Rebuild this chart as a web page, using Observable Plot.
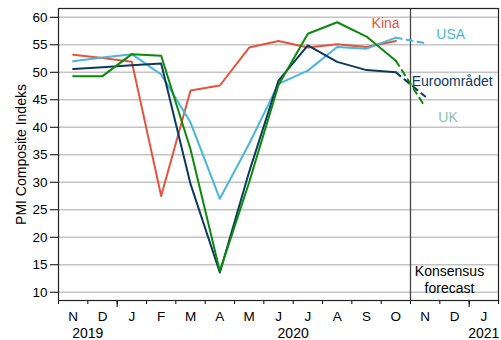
<!DOCTYPE html>
<html>
<head>
<meta charset="utf-8">
<script src="https://cdn.jsdelivr.net/npm/d3@7"></script>
<script src="https://cdn.jsdelivr.net/npm/@observablehq/plot@0.6"></script>
<style>
  html, body { margin: 0; padding: 0; background: #fff; }
  svg { display: block; }
</style>
</head>
<body>
<div id="chart"></div>
<script>
// Months Nov 2019 .. Jan 2021 (index 0..14)
const months = ["N","D","J","F","M","A","M","J","J","A","S","O","N","D","J"];
const years = [{i: 0.5, label: "2019"}, {i: 7.5, label: "2020"}, {i: 14, label: "2021"}];
const yTicks = [10, 15, 20, 25, 30, 35, 40, 45, 50, 55, 60];

// Actuals Nov 2019 .. Oct 2020
const kina = [53.2, 52.6, 51.9, 27.5, 46.7, 47.6, 54.5, 55.7, 54.5, 55.1, 54.6, 55.7];
const usa  = [52.0, 52.7, 53.3, 49.6, 40.9, 27.0, 37.0, 47.9, 50.3, 54.6, 54.3, 56.3];
const euro = [50.6, 50.9, 51.3, 51.6, 29.7, 13.6, 31.9, 48.5, 54.9, 51.9, 50.4, 50.0];
const uk   = [49.3, 49.3, 53.3, 53.0, 36.0, 13.8, 30.0, 47.7, 57.0, 59.1, 56.5, 52.1];

// Consensus forecast for Nov 2020 (segment Oct -> Nov)
const usaF  = [56.3, 55.3];
const euroF = [50.0, 45.6];
const ukF   = [52.1, 43.7];

const colors = {kina: "#e5533f", usa: "#48b6dd", euro: "#0c3a5f", uk: "#0a8a0a", ukLabel: "#8cbfa8"};

const toRows = (arr, start) => arr.map((v, k) => ({i: start + k, v}));
const boundaries = d3.range(-0.5, 15, 1);
const font = "Liberation Sans, Arial, Helvetica, sans-serif";

const chart = Plot.plot({
  width: 501,
  height: 340,
  marginLeft: 58,
  marginRight: 3,
  marginTop: 8,
  marginBottom: 40,
  style: {fontFamily: font, background: "#fff", color: "#000"},
  x: {domain: [-0.5, 14.5], axis: null},
  y: {domain: [8.5, 61.6], axis: null},
  marks: [
    Plot.gridY(yTicks, {stroke: "#c4c4c4", strokeOpacity: 1, strokeWidth: 1.4}),
    Plot.ruleX([11.5], {stroke: "#444", strokeWidth: 1.3}),
    Plot.axisY(yTicks, {tickSize: 8, tickPadding: 3, fontSize: 13.5, label: null}),
    Plot.axisX(boundaries, {tickSize: 4, tickFormat: () => "", label: null}),
    Plot.axisX([1.5, 13.5], {tickSize: 7, tickFormat: () => "", label: null}),
    Plot.text(months, {x: (d, k) => k, frameAnchor: "bottom", dy: 16, lineAnchor: "middle", fontSize: 13.5, text: d => d}),
    Plot.text(years, {x: "i", text: "label", frameAnchor: "bottom", dy: 33, lineAnchor: "middle", fontSize: 14}),
    Plot.text(["PMI Composite Indeks"], {frameAnchor: "left", textAnchor: "middle", dx: -37, rotate: -90, fontSize: 14, lineAnchor: "middle"}),
    Plot.line(toRows(kina, 0), {x: "i", y: "v", stroke: colors.kina, strokeWidth: 2}),
    Plot.line(toRows(usa, 0), {x: "i", y: "v", stroke: colors.usa, strokeWidth: 2}),
    Plot.line(toRows(euro, 0), {x: "i", y: "v", stroke: colors.euro, strokeWidth: 2}),
    Plot.line(toRows(uk, 0), {x: "i", y: "v", stroke: colors.uk, strokeWidth: 2}),
    Plot.line(toRows(usaF, 11), {x: "i", y: "v", stroke: colors.usa, strokeWidth: 2, strokeDasharray: "6,5"}),
    Plot.line(toRows(euroF, 11), {x: "i", y: "v", stroke: colors.euro, strokeWidth: 2, strokeDasharray: "6,5"}),
    Plot.line(toRows(ukF, 11), {x: "i", y: "v", stroke: colors.uk, strokeWidth: 2, strokeDasharray: "6,5"}),
    Plot.text([{i: 10.65, v: 58.9, t: "Kina", c: colors.kina}], {x: "i", y: "v", text: "t", fill: "c", fontSize: 14}),
    Plot.text([{i: 12.87, v: 56.9, t: "USA", c: colors.usa}], {x: "i", y: "v", text: "t", fill: "c", fontSize: 14}),
    Plot.text([{i: 12.92, v: 48.3, t: "Euroområdet", c: colors.euro}], {x: "i", y: "v", text: "t", fill: "c", fontSize: 14}),
    Plot.text([{i: 12.78, v: 41.8, t: "UK", c: colors.ukLabel}], {x: "i", y: "v", text: "t", fill: "c", fontSize: 14}),
    Plot.text([{i: 12.83, v: 12.45, t: "Konsensus\nforecast"}], {x: "i", y: "v", text: "t", fill: "#000", fontSize: 14, lineAnchor: "middle", lineHeight: 1.2}),
    Plot.frame({stroke: "#222", strokeWidth: 1.2})
  ]
});
document.getElementById("chart").appendChild(chart);
</script>
</body>
</html>
